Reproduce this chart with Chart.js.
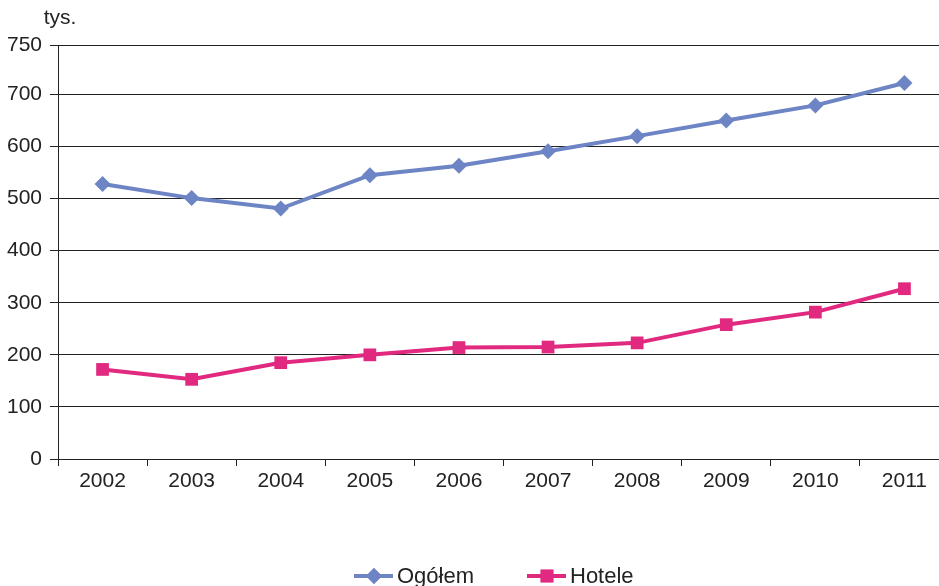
<!DOCTYPE html>
<html lang="pl">
<head>
  <meta charset="UTF-8">
  <title>Ogółem i hotele</title>
  <script src="https://cdn.jsdelivr.net/npm/chart.js"></script>
  <style>
    body {
      margin: 0;
      padding: 0;
      background: #fff;
      font-family: 'Liberation Sans', Arial, sans-serif;
    }
    #chartContainer {
      width: 939px;
      height: 586px;
      overflow: hidden;
    }
    #box {
      width: 958px;
      height: 586px;
    }
  </style>
</head>
<body>
  <div id="chartContainer">
    <div id="box"><canvas id="lineChart"></canvas></div>
  </div>
  <script>
    const years = ['2002', '2003', '2004', '2005', '2006', '2007', '2008', '2009', '2010', '2011'];
    const ogolem = [528, 501, 481, 545, 563, 591, 620, 650, 679, 722];
    const hotele = [172, 153, 185, 200, 214, 215, 223, 258, 282, 327];
    // the top gridline sits where 795 would be, but is labelled 750
    const yTickValues = [0, 100, 200, 300, 400, 500, 600, 700, 795];
    const yTickLabels = ['0', '100', '200', '300', '400', '500', '600', '700', '750'];

    const blue = '#6d84c5';
    const pink = '#e0297f';
    const font = { family: "'Liberation Sans', Arial, sans-serif", size: 21 };

    const extras = {
      id: 'extras',
      afterDraw(chart) {
        const ctx = chart.ctx;
        ctx.save();
        ctx.fillStyle = '#222';
        ctx.font = '21px ' + font.family;
        ctx.textBaseline = 'middle';
        ctx.textAlign = 'center';
        ctx.fillText('tys.', 60, 18);

        const y = 576;
        ctx.font = '22px ' + font.family;
        const items = [
          { x: 354, color: blue, style: 'rectRot', r: 8, label: 'Ogółem' },
          { x: 527, color: pink, style: 'rect', r: 9, label: 'Hotele' }
        ];
        items.forEach(it => {
          ctx.strokeStyle = it.color;
          ctx.lineWidth = 4;
          ctx.beginPath();
          ctx.moveTo(it.x, y);
          ctx.lineTo(it.x + 39, y);
          ctx.stroke();
          ctx.fillStyle = it.color;
          Chart.helpers.drawPoint(ctx, { pointStyle: it.style, radius: it.r, rotation: 0, borderWidth: 0 }, it.x + 20, y);
          ctx.fill();
          ctx.fillStyle = '#222';
          ctx.textAlign = 'left';
          ctx.fillText(it.label, it.x + 43, y + 1);
        });
        ctx.restore();
      }
    };

    new Chart(document.getElementById('lineChart'), {
      type: 'line',
      data: {
        labels: years,
        datasets: [
          {
            label: 'Ogółem',
            data: ogolem,
            borderColor: blue,
            backgroundColor: blue,
            borderWidth: 4,
            pointStyle: 'rectRot',
            pointRadius: 8,
            pointBorderWidth: 0,
            tension: 0
          },
          {
            label: 'Hotele',
            data: hotele,
            borderColor: pink,
            backgroundColor: pink,
            borderWidth: 4,
            pointStyle: 'rect',
            pointRadius: 9,
            pointBorderWidth: 0,
            tension: 0
          }
        ]
      },
      options: {
        responsive: true,
        maintainAspectRatio: false,
        animation: false,
        layout: { padding: { top: 45, left: 0, right: 2, bottom: 0 } },
        plugins: {
          legend: { display: false },
          tooltip: { enabled: false }
        },
        scales: {
          x: {
            offset: true,
            grid: {
              offset: true,
              drawOnChartArea: false,
              drawTicks: true,
              tickLength: 7,
              color: '#222'
            },
            border: { display: true, color: '#222', width: 1 },
            ticks: { color: '#222', font: font, padding: 3, maxRotation: 0 },
            afterFit(scale) { scale.height = 127; }
          },
          y: {
            min: 0,
            max: 795,
            afterBuildTicks(scale) {
              scale.ticks = yTickValues.map(v => ({ value: v }));
            },
            grid: {
              color: '#222',
              lineWidth: 1,
              drawTicks: true,
              tickLength: 8
            },
            border: { display: true, color: '#222', width: 1 },
            ticks: {
              color: '#222',
              font: font,
              padding: 8,
              callback: (v) => yTickLabels[yTickValues.indexOf(v)]
            },
            afterFit(scale) { scale.width = 58; }
          }
        }
      },
      plugins: [extras]
    });
  </script>
</body>
</html>
